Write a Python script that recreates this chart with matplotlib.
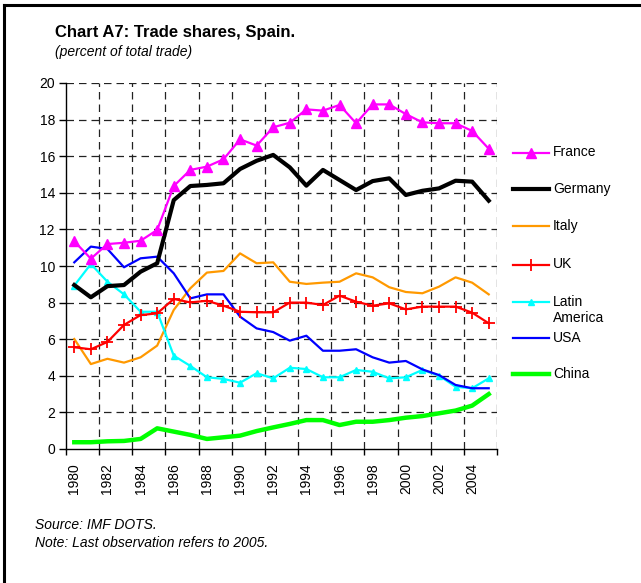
import matplotlib
matplotlib.use("Agg")
import matplotlib.pyplot as plt
from matplotlib.lines import Line2D
import numpy as np

plt.rcParams['font.family'] = ['Liberation Sans', 'DejaVu Sans']

years = list(range(1980, 2006))
france = [11.35, 10.4, 11.2, 11.27, 11.38, 11.97, 14.37, 15.25, 15.43, 15.83, 16.92, 16.58, 17.58,
          17.83, 18.56, 18.49, 18.8, 17.8, 18.83, 18.83, 18.3, 17.85, 17.8, 17.8, 17.38, 16.41]
germany = [8.96, 8.29, 8.9, 8.96, 9.69, 10.15, 13.6, 14.37, 14.43, 14.52, 15.3, 15.75, 16.07,
           15.39, 14.39, 15.25, 14.7, 14.15, 14.64, 14.79, 13.88, 14.11, 14.24, 14.66, 14.61, 13.57]
italy = [6.01, 4.64, 4.93, 4.72, 5.01, 5.65, 7.6, 8.78, 9.64, 9.73, 10.69, 10.15, 10.2,
         9.14, 9.02, 9.09, 9.14, 9.6, 9.38, 8.84, 8.58, 8.51, 8.87, 9.38, 9.09, 8.45]
uk = [5.56, 5.45, 5.85, 6.78, 7.32, 7.41, 8.2, 8.01, 8.1, 7.83, 7.5, 7.47, 7.47,
      8.0, 8.0, 7.87, 8.38, 8.05, 7.83, 7.96, 7.63, 7.78, 7.78, 7.78, 7.45, 6.87]
latin_america = [8.93, 10.11, 9.14, 8.45, 7.5, 7.5, 5.1, 4.54, 3.92, 3.83, 3.62, 4.14, 3.86,
                 4.44, 4.37, 3.92, 3.92, 4.32, 4.22, 3.86, 3.92, 4.32, 4.01, 3.4, 3.32, 3.86]
usa = [10.2, 11.06, 10.93, 9.93, 10.42, 10.51, 9.6, 8.23, 8.45, 8.45, 7.23, 6.59, 6.39,
       5.92, 6.19, 5.37, 5.37, 5.45, 5.01, 4.72, 4.81, 4.35, 4.04, 3.5, 3.32, 3.32]
china = [0.37, 0.37, 0.42, 0.44, 0.55, 1.13, 0.95, 0.77, 0.55, 0.64, 0.73, 0.98, 1.18,
         1.37, 1.58, 1.58, 1.31, 1.49, 1.49, 1.58, 1.71, 1.8, 1.95, 2.1, 2.37, 3.0]

series_names = ["France", "Germany", "Italy", "UK", "Latin\nAmerica", "USA", "China"]
y_ticks = list(range(0, 21, 2))
x_tick_labels = [str(y) for y in range(1980, 2005, 2)]

W, H = 641, 583
fig = plt.figure(figsize=(W / 100, H / 100), dpi=100)

def fx(px):
    return px / W

def fy(py):
    return 1 - py / H

ax = fig.add_axes([fx(66), fy(449), fx(497) - fx(66), fy(83) - fy(449)])

x = np.arange(len(years))

styles = [
    dict(color="#FF00FF", lw=1.6, marker="^", ms=7, mec="#FF00FF", mfc="#FF00FF"),
    dict(color="black", lw=3.0),
    dict(color="#FF9900", lw=1.6),
    dict(color="#FF0000", lw=1.6, marker="+", ms=9, mew=1.3),
    dict(color="#00FFFF", lw=1.6, marker="^", ms=4, mec="#00FFFF", mfc="#00FFFF"),
    dict(color="#0000FF", lw=1.6),
    dict(color="#00FF00", lw=3.2),
]
data = [france, germany, italy, uk, latin_america, usa, china]
zorders = [7, 6, 3, 5, 4, 4, 3]
for vals, st, z in zip(data, styles, zorders):
    ax.plot(x, vals, zorder=z, clip_on=False, **st)

ax.set_xlim(-0.5, len(years) - 0.5)
ax.set_ylim(0, 20)
ax.set_yticks(y_ticks)
ax.set_yticklabels([str(v) for v in y_ticks], fontsize=10)

# category axis: ticks at boundaries, labels at category centres
ax.set_xticks(np.arange(-0.5, len(years), 2))
ax.set_xticklabels([])
ax.set_xticks(np.arange(0, len(years) - 1, 2), minor=True)
ax.set_xticklabels(x_tick_labels, minor=True, rotation=90, fontsize=10)
ax.tick_params(axis="x", which="minor", length=0, pad=10)
ax.tick_params(axis="x", which="major", direction="out", length=4, width=1)
ax.tick_params(axis="y", direction="out", length=5, width=1, pad=3)

for v in y_ticks[1:]:
    ax.axhline(v, color="#222222", lw=0.9, ls=(0, (6, 4)), zorder=1)
for xv in np.arange(1.5, len(years), 2):
    ax.axvline(xv, color="#222222", lw=0.9, ls=(0, (6, 4)), zorder=1)

for s in ["top", "right"]:
    ax.spines[s].set_visible(False)
ax.spines["left"].set_linewidth(1.0)
ax.spines["bottom"].set_linewidth(1.0)

# legend (manual, figure coordinates)
leg_y = [152.5, 189, 226.5, 264.5, 301.5, 337.5, 373.5]
for name, st, ly in zip(series_names, styles, leg_y):
    line_kw = {k: v for k, v in st.items() if k not in ("marker", "ms", "mec", "mfc", "mew")}
    fig.add_artist(Line2D([fx(513), fx(549)], [fy(ly), fy(ly)], transform=fig.transFigure, **line_kw))
    if "marker" in st:
        fig.add_artist(Line2D([fx(531)], [fy(ly)], transform=fig.transFigure, ls="none",
                              marker=st["marker"], ms=st.get("ms"), mec=st.get("mec", st["color"]),
                              mfc=st.get("mfc", st["color"]), mew=st.get("mew", 1.0), color=st["color"]))
    if "\n" in name:
        fig.text(fx(553), fy(ly - 6.5), name, fontsize=10, va="top", ha="left", linespacing=1.2)
    else:
        fig.text(fx(553), fy(ly), name, fontsize=10, va="center", ha="left")

fig.text(fx(55), fy(32), "Chart A7: Trade shares, Spain.", fontsize=12, fontweight="bold", va="center")
fig.text(fx(55), fy(52), "(percent of total trade)", fontsize=10, style="italic", va="center")
fig.text(fx(35), fy(525), "Source: IMF DOTS.", fontsize=10, style="italic", va="center")
fig.text(fx(35), fy(543), "Note: Last observation refers to 2005.", fontsize=10, style="italic", va="center")

# outer frame (top and left edges visible)
fig.add_artist(Line2D([fx(4), fx(4)], [fy(4.5), 0], transform=fig.transFigure, color="black", lw=2.2))
fig.add_artist(Line2D([fx(4), 1], [fy(4.5), fy(4.5)], transform=fig.transFigure, color="black", lw=2.2))

fig.savefig("out.png", dpi=100)
